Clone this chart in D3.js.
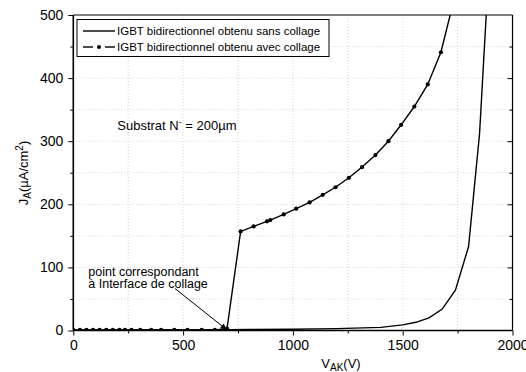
<!DOCTYPE html>
<html>
<head>
<meta charset="utf-8">
<script src="https://cdn.jsdelivr.net/npm/d3@7"></script>
<style>
  body { margin: 0; background: #fff; }
  text { font-family: "Liberation Sans", Arial, sans-serif; fill: #000; }
</style>
</head>
<body>
<svg id="chart" width="526" height="372"></svg>
<script>
// data
const sansV = [0, 200, 400, 600, 800, 1000, 1200, 1400, 1500, 1560, 1620, 1680, 1740, 1800, 1850, 1890]
const sansJ = [0.3, 0.5, 0.7, 1, 1.5, 2, 3, 5, 9, 13, 20, 34, 64, 133, 312, 560]

const avecV = [0, 30, 60, 90, 120, 150, 180, 210, 235, 265, 305, 355, 400, 460, 520, 585, 645, 700,
               762, 821, 882, 897, 958, 1015, 1076, 1136, 1194, 1255, 1315, 1376, 1435, 1493, 1553, 1614, 1674, 1734]
const avecJ = [1, 1, 1, 1, 1, 1, 1, 1, 1, 1, 1, 1, 1, 1, 1, 1, 1, 3,
               157, 165, 173, 175, 184, 193, 203, 215, 227, 242, 259, 278, 300, 326, 355, 390, 441, 525]

const xMajor = [0, 500, 1000, 1500, 2000]
const xMinor = [250, 750, 1250, 1750]
const yMajor = [0, 100, 200, 300, 400, 500]
const yMinor = [50, 150, 250, 350, 450]

const legendLabels = ["IGBT bidirectionnel obtenu sans collage", "IGBT bidirectionnel obtenu avec collage"]
const noteLines = ["point correspondant", "à Interface de collage"]

const svg = d3.select("#chart")
const pLeft = 73.3, pRight = 512.5, pTop = 15, pBottom = 330.5

const x = d3.scaleLinear().domain([0, 2000]).range([pLeft, pRight])
const y = d3.scaleLinear().domain([0, 500]).range([pBottom, pTop])

// grid (dotted)
const grid = svg.append("g")
grid.selectAll(".gx")
    .data(xMajor.concat(xMinor).filter(v => v > 0 && v < 2000))
    .join("line")
    .attr("x1", d => x(d)).attr("x2", d => x(d))
    .attr("y1", pTop).attr("y2", pBottom)
    .attr("stroke", "#c8c8c8").attr("stroke-width", 0.8).attr("stroke-dasharray", "1,2")
grid.selectAll(".gy")
    .data(yMajor.concat(yMinor).filter(v => v > 0 && v < 500))
    .join("line")
    .attr("y1", d => y(d)).attr("y2", d => y(d))
    .attr("x1", pLeft).attr("x2", pRight)
    .attr("stroke", "#c8c8c8").attr("stroke-width", 0.8).attr("stroke-dasharray", "1,2")

// clip
svg.append("clipPath").attr("id", "clip")
    .append("rect").attr("x", pLeft).attr("y", pTop).attr("width", pRight - pLeft).attr("height", pBottom - pTop)

const line = d3.line().x(d => x(d[0])).y(d => y(d[1]))
const sansData = sansV.map((v, i) => [v, sansJ[i]])
const avecData = avecV.map((v, i) => [v, avecJ[i]])

const plot = svg.append("g").attr("clip-path", "url(#clip)")
plot.append("path").datum(sansData)
    .attr("d", line).attr("fill", "none").attr("stroke", "#000").attr("stroke-width", 1.4)
plot.append("path").datum(avecData)
    .attr("d", line).attr("fill", "none").attr("stroke", "#000").attr("stroke-width", 1.4)
plot.selectAll(".dot").data(avecData.filter(d => d[1] <= 500))
    .join("circle")
    .attr("cx", d => x(d[0])).attr("cy", d => y(d[1])).attr("r", 2.1).attr("fill", "#000")

// axes
function styleAxis(g) {
    g.selectAll("text").style("font-family", "'Liberation Sans', Arial, sans-serif").style("font-size", "14px").attr("fill", "#000")
    g.selectAll("line").attr("stroke", "#000").attr("stroke-width", 1)
}
const fmt = d3.format("d")
const xAxis = svg.append("g").attr("transform", `translate(0,${pBottom})`)
    .call(d3.axisBottom(x).tickValues(xMajor).tickFormat(fmt).tickSize(5).tickSizeOuter(0).tickPadding(5))
xAxis.select(".domain").remove()
styleAxis(xAxis)
svg.append("g").attr("transform", `translate(0,${pBottom})`)
    .call(d3.axisBottom(x).tickValues(xMinor).tickSize(3).tickFormat(""))
    .call(g => g.select(".domain").remove()).call(styleAxis)

const yAxis = svg.append("g").attr("transform", `translate(${pLeft},0)`)
    .call(d3.axisLeft(y).tickValues(yMajor).tickFormat(fmt).tickSize(5).tickSizeOuter(0).tickPadding(5))
yAxis.select(".domain").remove()
styleAxis(yAxis)
svg.append("g").attr("transform", `translate(${pLeft},0)`)
    .call(d3.axisLeft(y).tickValues(yMinor).tickSize(3).tickFormat(""))
    .call(g => g.select(".domain").remove()).call(styleAxis)

// right axis ticks inward
svg.append("g").attr("transform", `translate(${pRight},0)`)
    .call(d3.axisLeft(y).tickValues(yMajor.filter(v => v > 0 && v < 500)).tickSize(5).tickFormat(""))
    .call(g => g.select(".domain").remove()).call(styleAxis)
svg.append("g").attr("transform", `translate(${pRight},0)`)
    .call(d3.axisLeft(y).tickValues(yMinor).tickSize(3).tickFormat(""))
    .call(g => g.select(".domain").remove()).call(styleAxis)

// frame
svg.append("line").attr("x1", pLeft).attr("x2", pRight).attr("y1", pTop).attr("y2", pTop).attr("stroke", "#000").attr("stroke-width", 1.2)
svg.append("line").attr("x1", pRight).attr("x2", pRight).attr("y1", pTop).attr("y2", pBottom).attr("stroke", "#000").attr("stroke-width", 1.2)
svg.append("line").attr("x1", pLeft).attr("x2", pRight).attr("y1", pBottom).attr("y2", pBottom).attr("stroke", "#000").attr("stroke-width", 1.6)
svg.append("line").attr("x1", pLeft).attr("x2", pLeft).attr("y1", pTop).attr("y2", pBottom).attr("stroke", "#000").attr("stroke-width", 1.6)

// axis titles
svg.append("text").attr("x", 341).attr("y", 367.5).attr("text-anchor", "middle").style("font-size", "13px")
    .call(t => {
        t.append("tspan").text("V")
        t.append("tspan").attr("dy", 3).style("font-size", "10px").text("AK")
        t.append("tspan").attr("dy", -3).text("(V)")
    })
svg.append("text").attr("transform", "translate(28,173) rotate(-90)").attr("text-anchor", "middle").style("font-size", "13px")
    .call(t => {
        t.append("tspan").text("J")
        t.append("tspan").attr("dy", 3).style("font-size", "10px").text("A")
        t.append("tspan").attr("dy", -3).text("(µA/cm")
        t.append("tspan").attr("dy", -5).style("font-size", "10px").text("2")
        t.append("tspan").attr("dy", 5).text(")")
    })

// legend
const lg = svg.append("g")
lg.append("rect").attr("x", 77).attr("y", 19.5).attr("width", 252).attr("height", 37)
    .attr("fill", "#fff").attr("stroke", "#000").attr("stroke-width", 1)
lg.append("line").attr("x1", 83).attr("x2", 115).attr("y1", 31).attr("y2", 31).attr("stroke", "#000").attr("stroke-width", 1.4)
lg.append("line").attr("x1", 83).attr("x2", 93).attr("y1", 47).attr("y2", 47).attr("stroke", "#000").attr("stroke-width", 1.4)
lg.append("line").attr("x1", 105).attr("x2", 115).attr("y1", 47).attr("y2", 47).attr("stroke", "#000").attr("stroke-width", 1.4)
lg.append("circle").attr("cx", 99).attr("cy", 47).attr("r", 2).attr("fill", "#000")
lg.selectAll(".lt").data(legendLabels).join("text")
    .attr("x", 117).attr("y", (d, i) => 31 + i * 16.3).attr("dy", "0.35em")
    .style("font-size", "11.5px").text(d => d)

// annotations
svg.append("text").attr("x", 117.3).attr("y", 129.5).style("font-size", "13px")
    .call(t => {
        t.append("tspan").text("Substrat N")
        t.append("tspan").attr("dy", -5).style("font-size", "9px").text("-")
        t.append("tspan").attr("dy", 5).text(" = 200µm")
    })
svg.selectAll(".note").data(noteLines).join("text")
    .attr("x", 88.3).attr("y", (d, i) => 275.5 + i * 12.5)
    .style("font-size", "12.5px").text(d => d)

svg.append("defs").append("marker").attr("id", "arrow")
    .attr("viewBox", "0 0 10 10").attr("refX", 10).attr("refY", 5)
    .attr("markerWidth", 8).attr("markerHeight", 6).attr("markerUnits", "userSpaceOnUse")
    .attr("orient", "auto")
    .append("path").attr("d", "M0,0L10,5L0,10z").attr("fill", "#000")
svg.append("line").attr("x1", 175).attr("y1", 288.5).attr("x2", x(700) - 0.5).attr("y2", y(1.5))
    .attr("stroke", "#000").attr("stroke-width", 1).attr("marker-end", "url(#arrow)")
</script>
</body>
</html>
